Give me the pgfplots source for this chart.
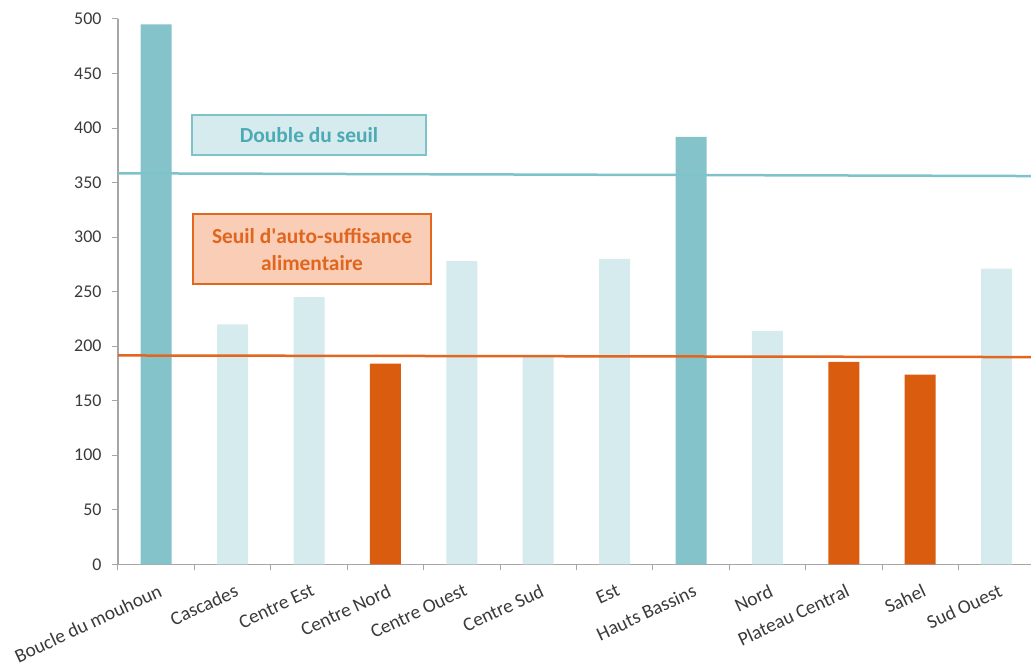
\documentclass[border=0pt]{standalone}
\usepackage{fontspec}
\setmainfont{Carlito}
\usepackage{pgfplots}
\pgfplotsset{compat=1.18}
\definecolor{tealdark}{HTML}{84C3C9}
\definecolor{teallight}{HTML}{D6EBEE}
\definecolor{orangebar}{HTML}{D95C0F}
\definecolor{tealline}{HTML}{7EC3CA}
\definecolor{tealtext}{HTML}{4BAAB4}
\definecolor{orangeline}{HTML}{E2661E}
\definecolor{orangetext}{HTML}{E0661F}
\definecolor{boxorange}{HTML}{F9CDB6}
\definecolor{axisgray}{HTML}{A6A6A6}
\definecolor{txtgray}{HTML}{3A3A3A}
\begin{document}
\begin{tikzpicture}
\begin{axis}[
 scale only axis, width=913bp, height=545.3bp,
 xmin=-0.5, xmax=11.45, ymin=0, ymax=500,
 axis x line=bottom, axis y line=left,
 axis line style={axisgray, line width=1.2bp, -},
 ytick={0,50,100,150,200,250,300,350,400,450,500},
 xtick={0,1,2,3,4,5,6,7,8,9,10,11},
 xticklabels={Boucle du mouhoun,Cascades,Centre Est,Centre Nord,Centre Ouest,Centre Sud,Est,Hauts Bassins,Nord,Plateau Central,Sahel,Sud Ouest},
 minor xtick={-0.5,0.5,1.5,2.5,3.5,4.5,5.5,6.5,7.5,8.5,9.5,10.5},
 major x tick style={draw=none},
 minor x tick style={axisgray, line width=1bp},
 minor tick length=6bp, major tick length=6bp,
 tick align=outside,
 ytick style={axisgray, line width=1bp},
 yticklabel style={font=\fontsize{18}{20}\selectfont, text=txtgray, xshift=-7bp},
 xticklabel style={font=\fontsize{19.5}{21}\selectfont, text=txtgray, rotate=25, anchor=north east, xshift=-1bp, yshift=-9bp},
 /pgf/number format/assume math mode=true,
 clip=false,
]
\addplot[ybar, bar width=31bp, bar shift=0pt, fill=tealdark, draw=none] coordinates {(0,495) (7,392)};
\addplot[ybar, bar width=31bp, bar shift=0pt, fill=teallight, draw=none] coordinates {(1,220) (2,245) (4,278) (5,190) (6,280) (8,214) (11,271)};
\addplot[ybar, bar width=31bp, bar shift=0pt, fill=orangebar, draw=none] coordinates {(3,184) (9,185.5) (10,174)};
\addplot[tealline, line width=2.5bp, no marks] coordinates {(-0.5,358.5) (11.45,356)};
\addplot[orangeline, line width=2.5bp, no marks] coordinates {(-0.5,191.5) (11.45,190)};
\node[draw=tealline, fill=teallight, line width=2bp, minimum width=234bp, minimum height=40bp, text=tealtext, font=\bfseries\fontsize{21.5}{24}\selectfont] at (axis cs:2.0,393.6) {Double du seuil};
\node[draw=orangeline, fill=boxorange, line width=2bp, minimum width=238bp, minimum height=70bp, align=center, text=orangetext, font=\bfseries\fontsize{21.5}{27}\selectfont] at (axis cs:2.04,289) {Seuil d\textquotesingle auto-suffisance\\alimentaire};
\end{axis}
\pgfresetboundingbox
\path[use as bounding box] (-118bp,-103.7bp) rectangle (913bp,564.3bp);
\end{tikzpicture}
\end{document}
